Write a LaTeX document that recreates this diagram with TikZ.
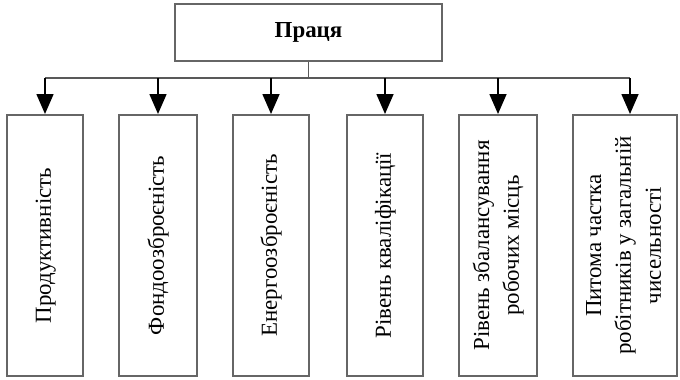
\documentclass[tikz,border=0pt]{standalone}
\usepackage{fontspec}
\setmainfont{Liberation Serif}
\usepackage{graphicx}
\usetikzlibrary{arrows.meta}
\tikzset{
  x=1bp,y=-1bp,
  topbox/.style={draw=black!60,line width=2bp,minimum width=267bp,minimum height=57bp,inner sep=0pt,
     font=\fontsize{23}{27}\selectfont\bfseries},
  factor/.style={draw=black!60,line width=2bp,minimum height=261bp,inner sep=0pt,
     font=\fontsize{23}{30}\selectfont},
  bus/.style={draw=black!65,line width=1.6bp},
  arr/.style={draw=black,line width=1.6bp,-{Triangle[width=17bp,length=20bp]}},
}
\newcommand{\rtext}[1]{\rotatebox{90}{\begin{tabular}{@{}c@{}}#1\end{tabular}}}
\begin{document}
\begin{tikzpicture}
\useasboundingbox (0,0) rectangle (680,379);
\node[topbox] (top) at (308.5,32.5) {Праця};
\node[factor,minimum width=76bp] (b1) at (45,245.5) {\rtext{Продуктивність}};
\node[factor,minimum width=78bp] (b2) at (158,245.5) {\rtext{Фондоозброєність}};
\node[factor,minimum width=76bp] (b3) at (271,245.5) {\rtext{Енергоозброєність}};
\node[factor,minimum width=76bp] (b4) at (385,245.5) {\rtext{Рівень кваліфікації}};
\node[factor,minimum width=78bp] (b5) at (498,245.5) {\rtext{Рівень збалансування\\робочих місць}};
\node[factor,minimum width=104bp] (b6) at (625,245.5) {\rtext{Питома частка\\робітників у загальній\\чисельності}};
\coordinate (busL) at (45,78);
\coordinate (busR) at (630,78);
\coordinate (busM) at (top.south |- busL);
\draw[bus] (top.south) -- (busM);
\draw[bus] (busL) -- (busR);
\foreach \i in {1,...,5}{
  \draw[arr] (b\i.north |- busL) -- (b\i.north);
}
\draw[arr] (busR) -- (busR |- b6.north);
\end{tikzpicture}
\end{document}
